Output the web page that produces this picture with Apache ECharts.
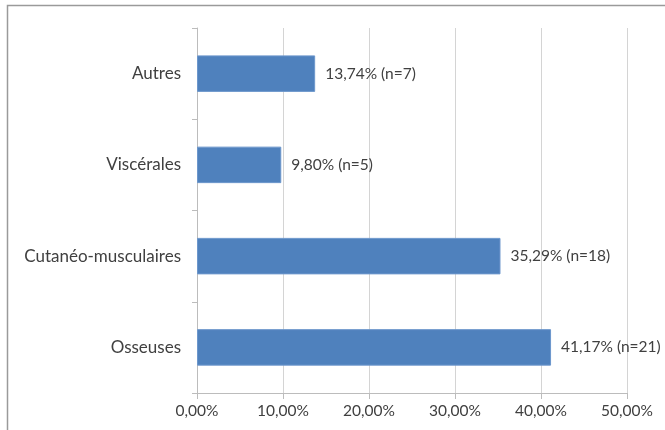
<!DOCTYPE html>
<html>
<head>
<meta charset="utf-8">
<script src="https://cdn.jsdelivr.net/npm/echarts@6/dist/echarts.min.js"></script>
<style>
html,body{margin:0;padding:0;background:#fff;}
#c{width:665px;height:430px;}
</style>
</head>
<body>
<div id="c"></div>
<script>
var categories = ["Osseuses", "Cutanéo-musculaires", "Viscérales", "Autres"];
var percentages = [41.17, 35.29, 9.80, 13.74];
var counts = [21, 18, 5, 7];
var xTicks = [0, 10, 20, 30, 40, 50];

function fr(v) { return v.toFixed(2).replace('.', ','); }

var chart = echarts.init(document.getElementById('c'));
var FONT = 'Lato';
chart.setOption({
  animation: false,
  backgroundColor: '#fff',
  graphic: [{
    type: 'rect',
    shape: { x: 7.5, y: 5.5, width: 700, height: 500 },
    style: { fill: 'none', stroke: '#9a9a9a', lineWidth: 1.5 },
    silent: true
  }],
  grid: { left: 197, right: 38, top: 28, bottom: 37, containLabel: false },
  xAxis: {
    type: 'value',
    min: xTicks[0],
    max: xTicks[xTicks.length - 1],
    interval: 10,
    axisLine: { show: true, lineStyle: { color: '#bcbcbc', width: 1 } },
    axisTick: { show: true, length: 6, lineStyle: { color: '#bcbcbc' } },
    splitLine: { show: true, lineStyle: { color: '#d4d4d4', width: 1 } },
    axisLabel: {
      margin: 10,
      color: '#404040',
      fontFamily: FONT,
      fontSize: 15.5,
      formatter: function (v) { return fr(v) + '%'; }
    }
  },
  yAxis: {
    type: 'category',
    data: categories,
    axisLine: { show: true, lineStyle: { color: '#bcbcbc', width: 1 } },
    axisTick: { show: true, length: 5, alignWithLabel: false, lineStyle: { color: '#bcbcbc' } },
    splitLine: { show: false },
    axisLabel: {
      margin: 16,
      color: '#404040',
      fontFamily: FONT,
      fontSize: 17
    }
  },
  series: [{
    type: 'bar',
    data: percentages,
    barWidth: '40%',
    itemStyle: { color: '#4f81bd', borderColor: '#6d97cc', borderWidth: 1 },
    label: {
      show: true,
      position: 'right',
      distance: 10,
      color: '#404040',
      fontFamily: FONT,
      fontSize: 15.5,
      formatter: function (p) { return fr(p.value) + '% (n=' + counts[p.dataIndex] + ')'; }
    }
  }]
});
</script>
</body>
</html>
